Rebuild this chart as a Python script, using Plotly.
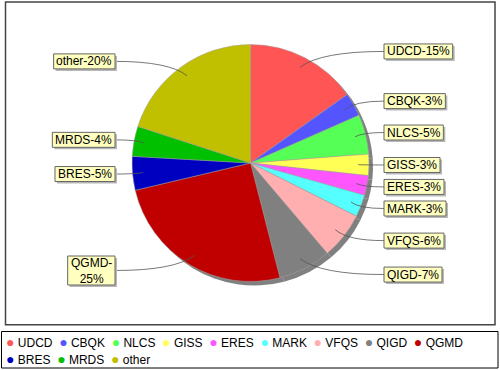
import math
import plotly.graph_objects as go

# ---- data ----
categories = ['UDCD', 'CBQK', 'NLCS', 'GISS', 'ERES', 'MARK',
              'VFQS', 'QIGD', 'QGMD', 'BRES', 'MRDS', 'other']
values = [15.2, 3.2, 5.4, 2.9, 2.7, 3.0, 6.4, 7.2, 25.3, 4.6, 4.1, 20.0]
colors = ['#FF5555', '#5555FF', '#55FF55', '#FFFF55', '#FF55FF', '#55FFFF',
          '#FFAFAF', '#808080', '#C00000', '#0000C0', '#00C000', '#C0C000']
legend_rows = [categories[:9], categories[9:]]

# ---- layout geometry (pixels) ----
W, H = 500, 370
CX, CY, R = 250.5, 163.0, 118.5
SHADOW = 4
FONT = 'Liberation Sans, Arial, sans-serif'
FS = 12
LINE_H = 14
PAD = 3


def px(x):
    return x / W


def py(y):
    return 1 - y / H


ARIAL = {'M': .833, 'Q': .778, 'G': .778, '%': .889, '-': .333, 't': .278,
         'r': .333, 'D': .722, 'C': .722, 'U': .722, 'B': .667, 'R': .722,
         'S': .667, 'E': .667, 'I': .278, 'K': .667, 'N': .722, 'L': .556,
         'A': .667, 'F': .611, 'V': .667}


def text_w(s, size=FS):
    return sum(ARIAL.get(c, .556) for c in s) * size


fig = go.Figure()
n = len(values)
common = dict(values=values, labels=categories, sort=False,
              direction='clockwise', rotation=0, textinfo='none',
              hoverinfo='skip', showlegend=False)
# shadow
fig.add_trace(go.Pie(**common,
                     marker=dict(colors=['#808080'] * n, line=dict(width=0)),
                     domain=dict(x=[px(CX - R + SHADOW), px(CX + R + SHADOW)],
                                 y=[py(CY + R + SHADOW), py(CY - R + SHADOW)])))
# pie
fig.add_trace(go.Pie(**common,
                     marker=dict(colors=colors, line=dict(width=0.5, color='#a0a0a0')),
                     domain=dict(x=[px(CX - R), px(CX + R)],
                                 y=[py(CY + R), py(CY - R)])))

shapes = []
boxes = []
annotations = []
# outer border & legend box
shapes.append(dict(type='rect', xref='paper', yref='paper',
                   x0=px(5.5), x1=px(495), y0=py(324.8), y1=py(2),
                   line=dict(color='#444444', width=1.5)))
shapes.append(dict(type='rect', xref='paper', yref='paper',
                   x0=px(1.5), x1=px(498), y0=py(368), y1=py(331.5),
                   line=dict(color='#000000', width=1)))

total = sum(values)
cum = 0.0
R0 = 0.91 * R
L = 1.06 * R
RIGHT_X, LEFT_X = 384, 115
for name, v in zip(categories, values):
    th = math.radians((cum + v / 2) / total * 360)
    cum += v
    s, c = math.sin(th), math.cos(th)
    x0, y0 = CX + R0 * s, CY - R0 * c
    ty = CY - L * c
    right = s >= 0
    tx = RIGHT_X if right else LEFT_X
    ctrl_x = x0 + 0.25 * (tx - x0)
    shapes.append(dict(type='path', xref='paper', yref='paper', layer='above',
                       path=f"M {px(x0)},{py(y0)} Q {px(ctrl_x)},{py(ty)} {px(tx)},{py(ty)}",
                       line=dict(color='#555555', width=0.8)))
    pct = round(v / total * 100)
    lines = [f"{name}-{pct}%"]
    if not right and text_w(lines[0]) > 60:
        lines = [f"{name}-", f"{pct}%"]
    bw = max(text_w(t) for t in lines) + 2 * PAD
    bh = LINE_H * len(lines) + 1
    bx0 = tx if right else tx - bw
    bx1 = bx0 + bw
    by0, by1 = ty - bh / 2, ty + bh / 2
    boxes.append(dict(type='rect', xref='paper', yref='paper', layer='above',
                      x0=px(bx0 + 2), x1=px(bx1 + 2), y0=py(by1 + 2), y1=py(by0 + 2),
                      fillcolor='#b8b8b8', line=dict(width=0)))
    boxes.append(dict(type='rect', xref='paper', yref='paper', layer='above',
                      x0=px(bx0), x1=px(bx1), y0=py(by1), y1=py(by0),
                      fillcolor='#FFFFC0', line=dict(color='#666666', width=1)))
    annotations.append(dict(x=px((bx0 + bx1) / 2), y=py(ty), xref='paper', yref='paper',
                            xanchor='center', yanchor='middle', showarrow=False,
                            text='<br>'.join(lines), align='center',
                            font=dict(family=FONT, size=FS, color='#000000')))

shapes += boxes

# legend
col = dict(zip(categories, colors))
for i, row in enumerate(legend_rows):
    parts = [f"<span style='color:{col[nm]};font-size:14px'>\u25CF</span>\u00a0{nm}"
             for nm in row]
    annotations.append(dict(x=px(4), y=py(341.5 + 17.5 * i), xref='paper', yref='paper',
                            xanchor='left', yanchor='middle', showarrow=False,
                            text='\u00a0\u00a0'.join(parts), align='left',
                            font=dict(family=FONT, size=FS, color='#000000')))

fig.update_layout(width=W, height=H, autosize=False,
                  margin=dict(l=0, r=0, t=0, b=0),
                  paper_bgcolor='white', plot_bgcolor='white',
                  shapes=shapes, annotations=annotations, showlegend=False)
fig.write_html("out.html", config={'displayModeBar': False},
               post_script="document.body.style.margin='0';"
                           "document.body.style.overflow='hidden';")
